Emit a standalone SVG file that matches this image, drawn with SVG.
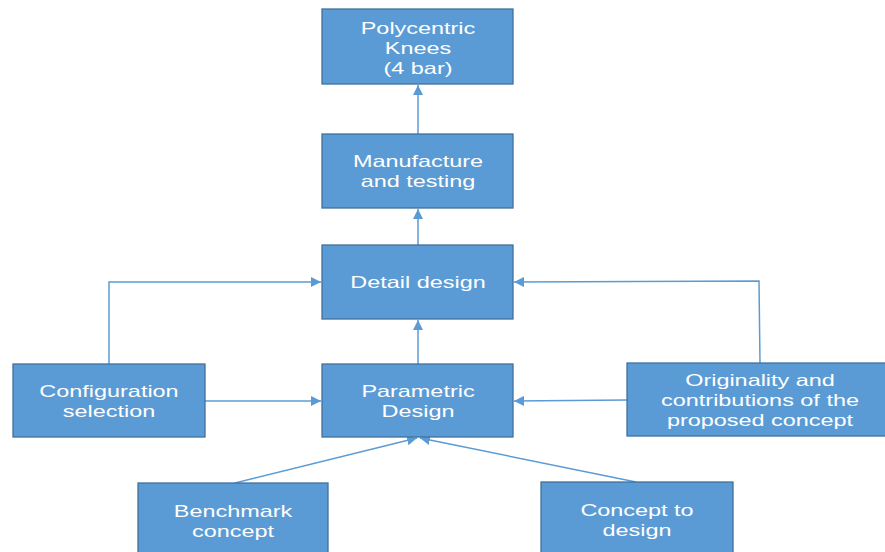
<svg xmlns="http://www.w3.org/2000/svg" width="885" height="552" viewBox="0 0 885 552">
<style>
.box{fill:#5B9BD5;stroke:#41719C;stroke-width:1.3}
.t{font-family:"Liberation Sans",Arial,sans-serif;font-size:16.5px;fill:#FFFFFF;text-anchor:middle}
.c{fill:none;stroke:#5B9BD5;stroke-width:1.5}
</style>
<defs>
<marker id="ah" viewBox="0 0 10 10" refX="10" refY="5" markerWidth="10" markerHeight="10" markerUnits="userSpaceOnUse" orient="auto">
<path d="M0,0 L10,5 L0,10 z" fill="#5B9BD5"/>
</marker>
</defs>
<rect width="885" height="552" fill="#FFFFFF"/>
<g id="connectors">
<line class="c" x1="418" y1="134" x2="418" y2="85" marker-end="url(#ah)"/>
<line class="c" x1="418" y1="245" x2="418" y2="209" marker-end="url(#ah)"/>
<line class="c" x1="418" y1="364" x2="418" y2="320" marker-end="url(#ah)"/>
<polyline class="c" points="109,364 109,282 321,282" marker-end="url(#ah)"/>
<line class="c" x1="205" y1="401" x2="321" y2="401" marker-end="url(#ah)"/>
<polyline class="c" points="760,363 759,281 514,282" marker-end="url(#ah)"/>
<line class="c" x1="627" y1="400" x2="514" y2="401" marker-end="url(#ah)"/>
<line class="c" x1="235" y1="483" x2="417" y2="438" marker-end="url(#ah)"/>
<line class="c" x1="636" y1="482" x2="420" y2="438" marker-end="url(#ah)"/>
</g>
<g id="polycentric">
<rect class="box" x="322" y="9" width="191" height="75"/>
<g transform="translate(418,0) scale(1.42,1)">
<text class="t" x="0" y="34">Polycentric</text>
<text class="t" x="0" y="54.5">Knees</text>
<text class="t" x="0" y="74">(4 bar)</text>
</g>
</g>
<g id="manufacture">
<rect class="box" x="322" y="134" width="191" height="74"/>
<g transform="translate(418,0) scale(1.42,1)">
<text class="t" x="0" y="167">Manufacture</text>
<text class="t" x="0" y="187.5">and testing</text>
</g>
</g>
<g id="detail">
<rect class="box" x="322" y="245" width="191" height="74"/>
<g transform="translate(418,0) scale(1.42,1)">
<text class="t" x="0" y="288">Detail design</text>
</g>
</g>
<g id="parametric">
<rect class="box" x="322" y="364" width="191" height="73"/>
<g transform="translate(418,0) scale(1.42,1)">
<text class="t" x="0" y="397">Parametric</text>
<text class="t" x="0" y="417.5">Design</text>
</g>
</g>
<g id="configuration">
<rect class="box" x="13" y="364" width="192" height="73"/>
<g transform="translate(109,0) scale(1.42,1)">
<text class="t" x="0" y="397">Configuration</text>
<text class="t" x="0" y="417.5">selection</text>
</g>
</g>
<g id="originality">
<rect class="box" x="627" y="363" width="262" height="73"/>
<g transform="translate(760,0) scale(1.42,1)">
<text class="t" x="0" y="386">Originality and</text>
<text class="t" x="0" y="406">contributions of the</text>
<text class="t" x="0" y="426">proposed concept</text>
</g>
</g>
<g id="benchmark">
<rect class="box" x="138" y="483" width="190" height="75"/>
<g transform="translate(233,0) scale(1.42,1)">
<text class="t" x="0" y="517">Benchmark</text>
<text class="t" x="0" y="537.5">concept</text>
</g>
</g>
<g id="concept">
<rect class="box" x="541" y="482" width="192" height="76"/>
<g transform="translate(637,0) scale(1.42,1)">
<text class="t" x="0" y="516">Concept to</text>
<text class="t" x="0" y="536.5">design</text>
</g>
</g>
</svg>
